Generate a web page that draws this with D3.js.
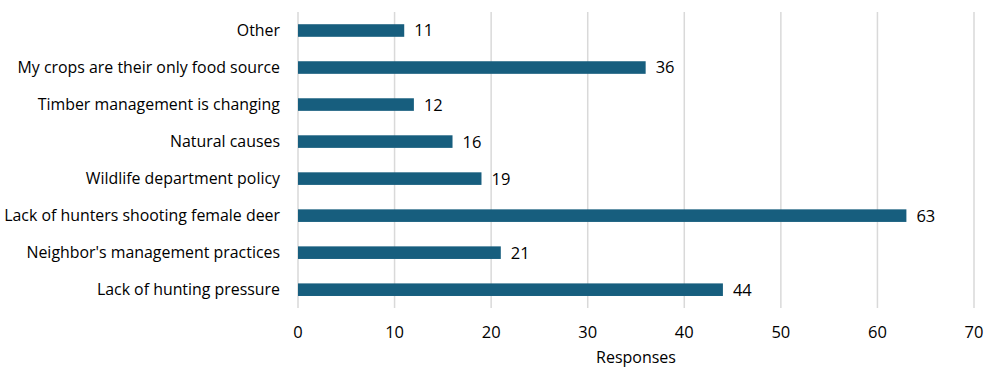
<!DOCTYPE html>
<html><head><meta charset="utf-8">
<script src="https://cdn.jsdelivr.net/npm/d3@7"></script>
<style>body{margin:0;background:#fff}svg{display:block}text{font-family:"Open Sans",sans-serif;fill:#000}</style>
</head><body><svg id="c" width="999" height="381"></svg>
<script>
const categories = ["Other","My crops are their only food source","Timber management is changing","Natural causes","Wildlife department policy","Lack of hunters shooting female deer","Neighbor's management practices","Lack of hunting pressure"];
const values = [11,36,12,16,19,63,21,44];
const ticks = [0,10,20,30,40,50,60,70];
const axisTitle = "Responses";

const svg = d3.select("#c");
const x = d3.scaleLinear().domain([0,70]).range([298,974]);
const y = d3.scaleBand().domain(categories).range([12,308.2]).paddingInner(0.66).paddingOuter(0.33);

svg.append("g").selectAll("line").data(ticks).join("line")
  .attr("x1",d=>x(d)).attr("x2",d=>x(d)).attr("y1",12).attr("y2",308)
  .attr("stroke","#d9d9d9").attr("stroke-width",1.5);

svg.append("g").selectAll("rect").data(values).join("rect")
  .attr("x",x(0)).attr("y",(d,i)=>y(categories[i]))
  .attr("width",d=>x(d)-x(0)).attr("height",y.bandwidth()).attr("fill","#175e7e");

svg.append("g").selectAll("text").data(values).join("text")
  .attr("x",d=>x(d)+10).attr("y",(d,i)=>y(categories[i])+y.bandwidth()/2)
  .attr("dy","0.36em").attr("font-size",16.5).text(d=>d);

svg.append("g").selectAll("text").data(categories).join("text")
  .attr("x",280).attr("y",d=>y(d)+y.bandwidth()/2).attr("dy","0.36em")
  .attr("text-anchor","end").attr("font-size",15.9).text(d=>d);

svg.append("g").selectAll("text").data(ticks).join("text")
  .attr("x",d=>x(d)).attr("y",332).attr("dy","0.36em")
  .attr("text-anchor","middle").attr("font-size",16.5).text(d=>d);

svg.append("text").attr("x",x(35)).attr("y",357).attr("dy","0.36em")
  .attr("text-anchor","middle").attr("font-size",16).text(axisTitle);
</script></body></html>
